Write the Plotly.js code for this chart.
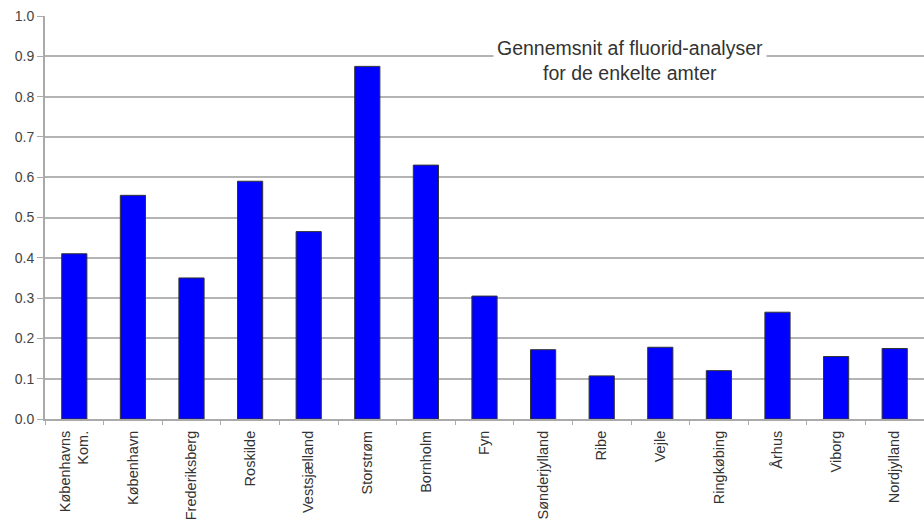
<!DOCTYPE html>
<html>
<head>
<meta charset="utf-8">
<script src="https://cdn.plot.ly/plotly-3.0.1.min.js"></script>
<style>html,body{margin:0;padding:0;background:#fff}#chart{width:924px;height:525px}</style>
</head>
<body>
<div id="chart"></div>
<script>
// Amter (counties) and their mean fluoride value
const counties = ["Københavns<br>Kom.", "København", "Frederiksberg", "Roskilde", "Vestsjælland",
  "Storstrøm", "Bornholm", "Fyn", "Sønderjylland", "Ribe", "Vejle", "Ringkøbing", "Århus", "Viborg", "Nordjylland"];
const meanFluoride = [0.41, 0.555, 0.35, 0.59, 0.465, 0.875, 0.63, 0.305, 0.172, 0.107, 0.178, 0.12, 0.265, 0.155, 0.175];
const yTicks = [0, 0.1, 0.2, 0.3, 0.4, 0.5, 0.6, 0.7, 0.8, 0.9, 1.0];

const trace = {
  type: "bar",
  x: counties,
  y: meanFluoride,
  width: 0.43,
  marker: {color: "#0000ff", line: {color: "#333333", width: 1}},
  hoverinfo: "x+y"
};

const layout = {
  width: 924, height: 525,
  margin: {l: 45, r: 0, t: 16, b: 106},
  paper_bgcolor: "#ffffff", plot_bgcolor: "#ffffff",
  font: {family: "Liberation Sans, Arial, sans-serif", size: 14, color: "#444"},
  showlegend: false,
  xaxis: {
    type: "category",
    tickangle: -90,
    tickson: "boundaries",
    ticks: "outside", ticklen: 4, tickcolor: "#aaa",
    ticklabelstandoff: 4,
    showline: true, linecolor: "#aaa", linewidth: 2,
    showgrid: false,
    tickfont: {size: 14.5, color: "#333"},
    automargin: false
  },
  yaxis: {
    range: [0, 1.0],
    tickvals: yTicks,
    tickformat: ".1f",
    ticks: "outside", ticklen: 6, tickcolor: "#aaa",
    showline: true, linecolor: "#aaa", linewidth: 2,
    showgrid: true, gridcolor: "#b4b4b4", gridwidth: 2,
    zeroline: false,
    tickfont: {size: 14, color: "#444"},
    automargin: false
  },
  annotations: [{
    xref: "paper", yref: "paper",
    x: 0.6655, y: 0.89,
    xanchor: "center", yanchor: "middle",
    text: "Gennemsnit af fluorid-analyser<br>for de enkelte amter",
    showarrow: false,
    align: "center",
    font: {size: 19.5, color: "#333"},
    bgcolor: "#ffffff",
    borderpad: 3
  }]
};

Plotly.newPlot("chart", [trace], layout, {displayModeBar: false, staticPlot: true});
</script>
</body>
</html>
